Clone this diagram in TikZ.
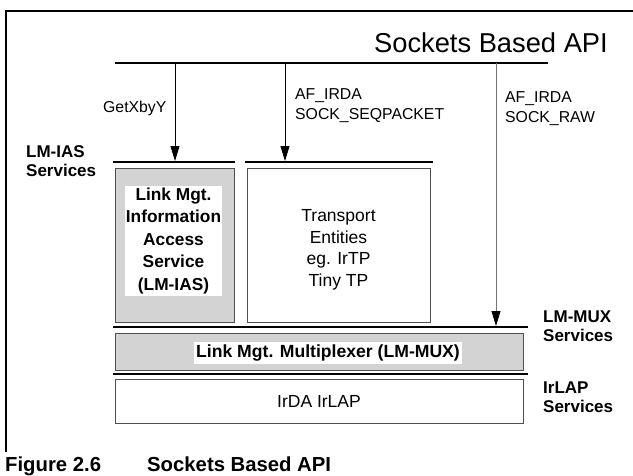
\documentclass[tikz,border=0pt]{standalone}
\usepackage{fontspec}
\setmainfont{Liberation Sans}
\usetikzlibrary{arrows.meta}
\definecolor{boxgray}{RGB}{211,211,211}
\definecolor{edgegray}{RGB}{80,80,80}
\definecolor{rawgray}{RGB}{115,115,115}
\begin{document}
\begin{tikzpicture}[x=1pt,y=-1pt,
  bar/.style={line width=2.6pt},
  flow/.style={line width=0.9pt,-{Triangle[length=15pt,width=9pt,color=black]}},
  layerbox/.style={draw=edgegray,line width=0.8pt,inner sep=0pt},
  lbl/.style={font=\fontsize{15.8}{20}\selectfont,inner sep=0pt,align=left},
  svc/.style={font=\bfseries\fontsize{17}{19}\selectfont,inner sep=0pt,align=left},
  boldtxt/.style={font=\bfseries\fontsize{17.3}{22.5}\selectfont,align=center},
  plaintxt/.style={font=\fontsize{17.5}{21.5}\selectfont,align=center,inner sep=0pt},
]
\useasboundingbox (0,0) rectangle (633,475);
% frame
\coordinate (fbl) at (6,452);
\coordinate (ftl) at (6,11);
\coordinate (ftr) at (640,11);
\draw[line width=2pt] (fbl) -- (ftl) -- (ftr);
% title
\node[anchor=base east,inner sep=0pt,font=\fontsize{27.3}{30}\selectfont] (title) at (608,52.5) {Sockets Based API};
% top line
\coordinate (tl) at (115,63);
\coordinate (tr) at (548,63);
\draw[line width=2pt] (tl) -- (tr);
% bars
\coordinate (b1l) at (113,162); \coordinate (b1r) at (235,162);
\coordinate (b2l) at (245,162); \coordinate (b2r) at (433,162);
\coordinate (b3l) at (113,327); \coordinate (b3r) at (528,327);
\coordinate (b4l) at (113,374); \coordinate (b4r) at (528,374);
\draw[bar] (b1l) -- (b1r);
\draw[bar] (b2l) -- (b2r);
\draw[bar] (b3l) -- (b3r);
\draw[bar] (b4l) -- (b4r);
% arrows
\coordinate (a1s) at (175,63); \coordinate (a1e) at (175,161);
\coordinate (a2s) at (285,63); \coordinate (a2e) at (285,161);
\coordinate (a3s) at (496,63); \coordinate (a3e) at (496,326);
\draw[flow] (a1s) -- (a1e);
\draw[flow] (a2s) -- (a2e);
\draw[flow,draw=rawgray] (a3s) -- (a3e);
% arrow labels
\node[lbl,anchor=base west] (getx) at (103,112.5) {GetXbyY};
\node[lbl,anchor=west] (seq) at (295,105.5) {AF\_IRDA\\SOCK\_SEQPACKET};
\node[lbl,anchor=west] (raw) at (505,108.5) {AF\_IRDA\\SOCK\_RAW};
% service labels
\node[svc,anchor=west] (iassvc) at (26,161.5) {LM-IAS\\Services};
\node[svc,anchor=west] (muxsvc) at (543,326.5) {LM-MUX\\Services};
\node[svc,anchor=west] (lapsvc) at (543,397.5) {IrLAP\\Services};
% LM-IAS box
\node[layerbox,fill=boxgray,minimum width=119pt,minimum height=154pt] (ias) at (174.5,245) {};
\node[boldtxt,fill=white,minimum width=97pt,minimum height=110pt,inner sep=0pt] (iastext) at (173.5,241) {Link Mgt.\\Information\\Access\\Service\\(LM-IAS)};
% Transport box
\node[layerbox,minimum width=183pt,minimum height=154pt] (tp) at (338.5,245) {};
\node[plaintxt] (tptext) at (338.5,250) {Transport\\Entities\\eg. IrTP\\Tiny TP};
% LM-MUX box
\node[layerbox,fill=boxgray,minimum width=408pt,minimum height=37pt] (mux) at (319,351.5) {};
\node[font=\bfseries\fontsize{17.6}{20}\selectfont,fill=white,minimum width=268pt,minimum height=22pt,inner sep=0pt] (muxtext) at (328,353) {Link Mgt. Multiplexer (LM-MUX)};
% IrLAP box
\node[layerbox,minimum width=408pt,minimum height=44pt,font=\fontsize{17.5}{20}\selectfont] (lap) at (319,401) {IrDA IrLAP};
% caption
\node[anchor=base west,inner sep=0pt,font=\bfseries\fontsize{20.3}{24}\selectfont] (fig) at (5,471) {Figure 2.6};
\node[anchor=base west,inner sep=0pt,font=\bfseries\fontsize{20.3}{24}\selectfont] (cap) at (147,471) {Sockets Based API};
\end{tikzpicture}
\end{document}
